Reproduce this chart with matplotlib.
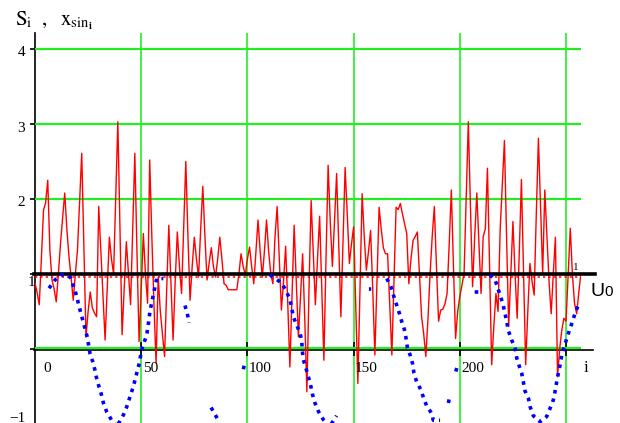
import matplotlib
matplotlib.use("Agg")
import matplotlib.pyplot as plt
import matplotlib.transforms as mtransforms
import numpy as np

plt.rcParams["mathtext.fontset"] = "stix"

# S_i, i = 0..257
s_vals = [0.88, 0.75, 0.59, 1.2, 1.85, 1.95, 2.25, 1.32, 0.92, 0.8,
          0.63, 1.0, 1.4, 1.75, 2.08, 1.6, 1.23, 0.95, 0.65, 1.0,
          1.32, 1.95, 2.61, 1.4, 0.16, 0.5, 0.76, 0.55, 0.48, 0.43,
          1.9, 1.3, 0.7, 0.12, 0.8, 1.49, 1.2, 1.0, 2.0, 3.03,
          1.6, 0.19, 0.8, 1.43, 1.0, 0.59, 1.6, 2.61, 1.3, 0.1,
          0.8, 1.54, 1.0, 0.61, 2.52, 1.5, 0.6, -0.19, 0.96, 0.5,
          0.2, -0.1, 0.8, 1.65, 0.9, 0.12, 0.9, 1.56, 1.1, 0.74,
          1.6, 2.5, 1.5, 0.65, 1.1, 1.49, 1.2, 0.96, 1.6, 2.17,
          1.5, 0.92, 1.15, 1.35, 1.1, 0.96, 1.2, 1.49, 1.2, 0.87,
          0.85, 0.79, 0.79, 0.79, 0.79, 0.79, 1.0, 1.27, 1.1, 0.99,
          1.2, 1.36, 1.1, 0.87, 1.3, 1.72, 1.3, 0.96, 1.3, 1.72,
          1.3, 1.0, 0.87, 1.5, 1.9, 1.2, 0.52, 0.9, 1.37, 0.6,
          -0.24, 0.7, 1.65, 0.9, 0.16, 0.7, 1.27, 0.4, -0.57, 0.8,
          1.98, 1.3, 0.59, 1.2, 1.77, 0.8, -0.15, 1.2, 2.45, 1.7,
          1.1, 1.7, 2.34, 1.4, 0.43, 1.4, 2.42, 1.8, 1.14, 1.4,
          1.63, 0.6, -0.46, 0.8, 2.07, 1.5, 1.05, 1.3, 1.58, 0.8,
          -0.08, 0.9, 1.89, 1.6, 1.35, 1.27, 1.27, 0.6, -0.08, 0.9,
          1.89, 1.86, 1.94, 1.8, 1.67, 1.54, 0.87, 1.2, 1.45, 1.5,
          1.56, 1.0, 0.43, 0.2, -0.1, 0.4, 1.0, 1.5, 1.9, 1.1,
          0.37, 0.52, 0.53, 0.6, 0.74, 1.4, 2.12, 1.1, 0.14, 0.5,
          0.7, 0.85, 1.01, 2.0, 3.03, 1.9, 0.83, 1.5, 2.08, 1.4,
          0.74, 1.5, 1.6, 2.41, 1.1, -0.21, 0.3, 0.74, 0.5, 1.6,
          2.2, 2.78, 1.5, 0.3, 1.0, 1.7, 1.0, 0.41, 1.3, 2.26,
          1.0, -0.21, 0.5, 1.14, 0.9, 0.72, 1.8, 2.81, 1.9, 1.0,
          2.12, 1.5, 0.9, 0.47, 1.0, 1.49, -0.37, 0.0, 0.25, 0.41,
          0.37, 1.0, 1.61, 1.0, 0.61, 0.47, 0.75, 1.01]
s_idx = np.arange(len(s_vals))

nan = np.nan
# visible pieces of the dotted x_sin trace (gaps = nothing drawn)
xsin_i = [6.6, 9.4, 12.6, 15.1, 16.5, 18.8, 20.2, 21.2, 24.6, 25.9, 27.2, 28.2,
          29.0, 30.1, 31.1, 32.2, 33.8, 36.1, 38.6, 41.6, 43.2, 44.7, 46.3, 47.9,
          49.1, 50.2, 52.6, 53.3, 54.1, 54.9, 56.5, 57.3, 60.4, nan,
          70.6, 71.7, 72.6, nan,
          82.9, 85.1, 86.8, nan,
          98.1, 98.9, nan,
          110.6, 116.1, 118.5, 120.1, 120.9, 121.6, 123.2, 124.8, 125.6, 125.8,
          126.3, 127.4, 128.7, 129.8, 130.6, 131.8, 133.4, 135.7, 138.8, 142.0, nan,
          157.2, 158.3, nan,
          165.6, 167.6, 168.7, 170.0, 171.5, 172.6, 173.9, 174.7, 175.3, 176.6,
          177.8, 178.4, 179.7, 181.6, 182.8, 184.4, 186.8, 187.5, 190.7, nan,
          194.6, 195.4, nan,
          198.1, 198.9, nan,
          207.0, 208.9, nan,
          214.2, 216.6, 217.7, 218.9, 220.2, 221.3, 222.1, 222.8, 224.4, 226.0,
          226.8, 228.0, 229.1, 229.9, 230.7, 232.3, 233.1, 234.6, 237.8, 240.9,
          242.5, 244.0, 244.8, 245.6, 246.4, 247.2, 248.0, 249.1, 251.6, 252.7,
          254.2, 255.8]
xsin_v = [0.81, 0.92, 0.99, 0.99, 0.96, 0.79, 0.63, 0.52, 0.16, -0.06, -0.17, -0.28,
          -0.39, -0.50, -0.59, -0.72, -0.84, -0.95, -1.03, -0.88, -0.77, -0.64, -0.50, -0.32,
          -0.19, -0.01, 0.19, 0.32, 0.50, 0.61, 0.83, 0.94, 0.94, nan,
          0.58, 0.47, 0.35, nan,
          -0.78, -0.89, -0.98, nan,
          -0.27, -0.16, nan,
          0.99, 0.88, 0.76, 0.65, 0.54, 0.43, 0.32, 0.21, 0.10, -0.01,
          -0.14, -0.24, -0.37, -0.49, -0.60, -0.72, -0.83, -0.94, -1.03, -0.89, nan,
          0.80, 0.80, nan,
          0.94, 0.83, 0.72, 0.61, 0.48, 0.37, 0.26, 0.14, 0.02, -0.08,
          -0.20, -0.32, -0.44, -0.54, -0.64, -0.76, -0.86, -0.95, -0.95, nan,
          -0.72, -0.61, nan,
          -0.30, -0.22, nan,
          0.76, 0.76, nan,
          0.99, 0.92, 0.83, 0.72, 0.61, 0.47, 0.36, 0.25, 0.12, 0.01,
          -0.12, -0.23, -0.32, -0.44, -0.56, -0.66, -0.77, -0.89, -0.97, -0.90,
          -0.79, -0.68, -0.57, -0.44, -0.32, -0.21, -0.08, 0.03, 0.25, 0.34,
          0.47, 0.59]

u0 = 1.0
s_floor = 0.965
x_grid = [50, 100, 150, 200, 250]
x_labels = [0, 50, 100, 150, 200]
y_grid = [0, 2, 3, 4]
y_ticks = [-1, 0, 1, 2, 3, 4]
y_labels = [2, 3, 4]

green = "#22ee22"
serif = "Liberation Serif"

fig = plt.figure(figsize=(6.2, 4.23), dpi=100)
ax = fig.add_axes([35 / 620, -1 / 423, 545.9 / 620, 390.75 / 423])
ax.set_xlim(0, 257)
ax.set_ylim(-1.0, 4.21)
ax.set_axis_off()

for g in x_grid:
    ax.axvline(g, color=green, lw=1.2, zorder=1)
for g in y_grid:
    ax.axhline(g + (0.012 if g == 0 else 0), color=green, lw=1.6, zorder=1.5)

# axes lines
ax.plot([0, 0], [-1.1, 4.21], color="black", lw=1.2, zorder=1.2, clip_on=False)
ax.plot([-0.3, 262.5], [-0.012, -0.012], color="black", lw=1.2, zorder=1.2, clip_on=False)
ax.plot(x_grid, np.zeros(len(x_grid)), ls="none", marker="|", ms=10, mew=1.2,
        color="black", zorder=1.3, clip_on=False)
ax.plot(np.zeros(len(y_ticks)), y_ticks, ls="none", marker="_", ms=7, mew=1.2,
        color="black", zorder=1.3, clip_on=False)

ax.plot(s_idx, s_vals, color="red", lw=1.0, zorder=2)
ax.plot([0, s_idx[-1]], [s_floor, s_floor], color="red", lw=1.1,
        dashes=(1.5, 2.0), zorder=2.2)
ax.plot([-0.5, 263.5], [u0, u0], color="black", lw=2.6, zorder=3, clip_on=False)
ax.plot(xsin_i, xsin_v, color="#0000ff", lw=2.6, dashes=(1.0, 1.4),
        dash_capstyle="butt", zorder=4, clip_on=False)


def off(dx, dy):
    return mtransforms.offset_copy(ax.transData, fig=fig, x=dx, y=dy, units="dots")


for v in x_labels:
    dx = 8 if v == 0 else 1.5
    ax.text(v, 0, str(v), transform=off(dx, -19), ha="left", va="center",
            fontsize=11, family=serif)
for v in y_labels:
    ax.text(0, v, str(v), transform=off(-10, -4), ha="right", va="center",
            fontsize=11, family=serif)
ax.text(0, u0, "1", transform=off(0, -8), ha="right", va="center",
        fontsize=11, family=serif)
ax.text(0, -1, "\u22121", transform=off(-10, 6), ha="right", va="center",
        fontsize=11, family=serif)

ax.text(257, u0, "1", transform=off(-8, 6), ha="left", va="center",
        fontsize=8, family=serif)
ax.text(262, u0, "U", transform=off(-1, -18), ha="left", va="center",
        fontsize=14, family="Liberation Sans")
ax.text(262, u0, "0", transform=off(13, -18), ha="left", va="center",
        fontsize=11, family="Liberation Sans")
ax.text(257, 0, "i", transform=off(3, -19), ha="left", va="center",
        fontsize=12, family=serif)

fig.text(15 / 620, 1 - 21 / 423,
         r"$\mathrm{S}_{\mathrm{i}}\ \ ,\ \ \mathrm{x}_{\mathrm{sin}_{\mathbf{i}}}$",
         ha="left", va="center", fontsize=15)

fig.savefig("out.png", dpi=100, facecolor="white")
